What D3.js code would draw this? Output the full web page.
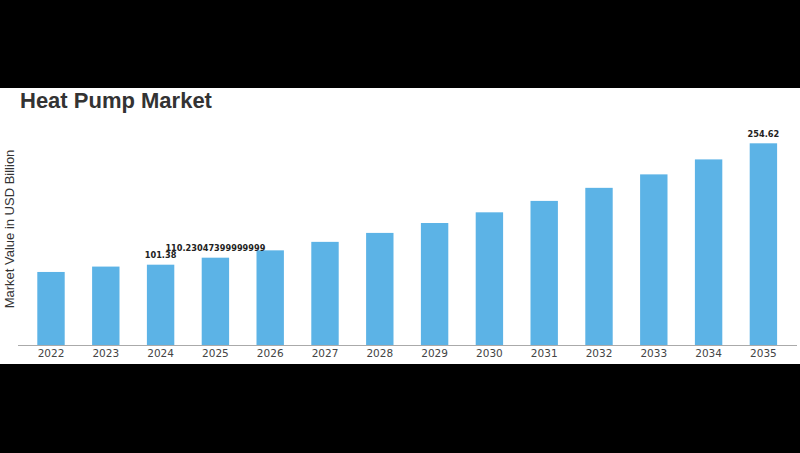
<!DOCTYPE html>
<html>
<head>
<meta charset="utf-8">
<script src="https://cdn.jsdelivr.net/npm/d3@7"></script>
<style>
  html, body { margin: 0; padding: 0; background: #000; }
  svg { display: block; }
</style>
</head>
<body>
<script>
const years = ["2022","2023","2024","2025","2026","2027","2028","2029","2030","2031","2032","2033","2034","2035"];
const values = [92.2, 99.0, 101.38, 110.23047399999999, 119.5, 130.2, 141.5, 154.0, 167.5, 181.9, 198.4, 215.4, 234.3, 254.62];
const labelledYears = ["2024", "2025", "2035"];
const titleText = "Heat Pump Market";
const yLabelText = "Market Value in USD Billion";

const W = 800, H = 453;
const svg = d3.select("body").append("svg").attr("width", W).attr("height", H);

svg.append("rect").attr("x", 0).attr("y", 0).attr("width", W).attr("height", H).attr("fill", "#000");
svg.append("rect").attr("x", 0).attr("y", 88).attr("width", W).attr("height", 276).attr("fill", "#fff");

const x = d3.scaleBand().domain(years).range([23.6, 790.8]).paddingInner(0.5).paddingOuter(0.25);
const y = d3.scaleLinear().domain([0, 280]).range([345, 123.2]);

svg.append("g").selectAll("rect").data(years).join("rect")
  .attr("x", d => x(d))
  .attr("y", (d, i) => y(values[i]))
  .attr("width", x.bandwidth())
  .attr("height", (d, i) => y(0) - y(values[i]))
  .attr("fill", "#5CB3E6");

// x axis
const xAxis = svg.append("g").attr("transform", "translate(0,345)")
  .call(d3.axisBottom(x).tickSize(0).tickPadding(5));
xAxis.select(".domain").remove();
xAxis.selectAll("text")
  .attr("font-family", "DejaVu Sans, sans-serif")
  .attr("font-size", "10.5px")
  .attr("fill", "#444");
svg.append("line").attr("x1", 18).attr("x2", 797).attr("y1", 345.5).attr("y2", 345.5)
  .attr("stroke", "#aaa").attr("stroke-width", 1);

// data labels
const labelOffsets = {"2024": 7, "2025": 7, "2035": 6};
svg.append("g").selectAll("text").data(years.filter(d => labelledYears.includes(d))).join("text")
  .attr("x", d => x(d) + x.bandwidth() / 2)
  .attr("y", d => y(values[years.indexOf(d)]) - labelOffsets[d])
  .attr("text-anchor", "middle")
  .attr("font-family", "DejaVu Sans, sans-serif")
  .attr("font-weight", "bold")
  .attr("font-size", "8.2px")
  .attr("fill", "#222")
  .text(d => String(values[years.indexOf(d)]));

// title
svg.append("text").attr("x", 20).attr("y", 108)
  .attr("font-family", "Liberation Sans, Arial, sans-serif")
  .attr("font-weight", "bold")
  .attr("font-size", "22px")
  .attr("fill", "#333")
  .text(titleText);

// y label
svg.append("text")
  .attr("transform", "translate(14,229) rotate(-90)")
  .attr("text-anchor", "middle")
  .attr("font-family", "Liberation Sans, Arial, sans-serif")
  .attr("font-size", "13px")
  .attr("fill", "#333")
  .text(yLabelText);
</script>
</body>
</html>
